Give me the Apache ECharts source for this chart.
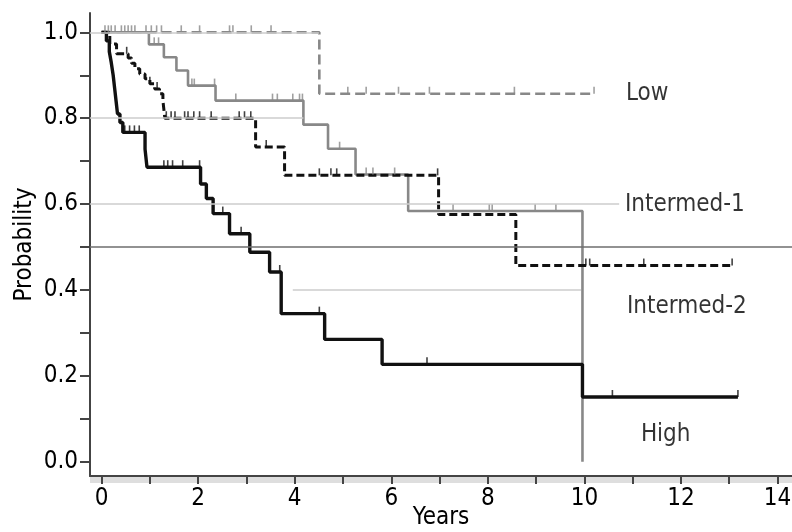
<!DOCTYPE html>
<html lang="en">
<head>
<meta charset="UTF-8">
<title>Probability by risk group</title>
<script src="https://cdn.jsdelivr.net/npm/echarts@6/dist/echarts.min.js"></script>
<style>
  html, body { margin: 0; padding: 0; background: #fff; }
</style>
</head>
<body>
<div id="main" style="width: 792px;height:532px;"></div>
<script type="text/javascript">
// step points [years, probability]
var lowSteps = [[0, 1], [4.51, 0.857], [10.2, 0.857]];
var int1Steps = [[0, 1], [0.98, 0.972], [1.29, 0.942], [1.55, 0.911], [1.79, 0.876], [2.36, 0.841],
    [4.18, 0.785], [4.69, 0.729], [5.26, 0.669], [6.35, 0.584], [9.96, 0]];
var int2Steps = [[0, 1], [0.17, 0.973], [0.31, 0.95], [0.55, 0.94], [0.62, 0.928], [0.69, 0.915],
    [0.79, 0.903], [0.90, 0.892], [1.0, 0.88], [1.10, 0.868], [1.20, 0.857], [1.27, 0.841],
    [1.31, 0.80], [3.19, 0.733], [3.79, 0.667], [6.98, 0.576], [8.58, 0.457], [13.06, 0.457]];
var highSteps = [[0, 1], [0.1, 0.98], [0.16, 0.955], [0.2, 0.93], [0.24, 0.9], [0.27, 0.87],
    [0.30, 0.84], [0.33, 0.81], [0.38, 0.79], [0.44, 0.767], [0.90, 0.728], [0.94, 0.686],
    [2.05, 0.647], [2.17, 0.613], [2.31, 0.578], [2.65, 0.531], [3.07, 0.488], [3.48, 0.442],
    [3.72, 0.345], [4.62, 0.285], [5.81, 0.227], [9.96, 0.151], [13.18, 0.151]];

// censor times (years)
var lowCensor = [0.07, 0.14, 0.2, 0.28, 0.41, 0.48, 0.55, 0.62, 0.69, 0.92, 1.03, 1.14, 1.24, 1.65,
    2.03, 2.65, 2.72, 3.1, 3.51, 5.1, 5.48, 6.15, 6.79, 8.55, 10.2];
var int1Censor = [1.09, 1.18, 1.87, 1.92, 2.34, 2.78, 3.54, 3.64, 3.96, 4.10, 4.16, 4.93, 5.48, 5.62,
    6.07, 7.28, 8.03, 8.09, 8.98, 9.41];
var int2Censor = [0.52, 1.0, 1.15, 1.34, 1.44, 1.52, 1.72, 1.79, 1.91, 2.03, 2.27, 2.85, 2.96, 3.09,
    3.41, 4.51, 4.75, 4.87, 6.96, 10.03, 10.11, 11.23, 13.06];
var highCensor = [0.48, 0.58, 0.68, 0.78, 1.29, 1.37, 1.47, 1.68, 2.03, 2.51, 2.89, 3.69, 4.51, 6.74,
    10.58, 13.18];

// group names and where they sit
var groupNames = ['Low', 'Intermed-1', 'Intermed-2', 'High'];
var groupLabelPos = [[10.86, 0.857], [10.84, 0.599], [10.88, 0.362], [11.17, 0.063]];

// horizontal reference lines: level, from, to
var refLevels = [1.0, 0.8, 0.6, 0.4, 0.5];
var refFrom = [-0.24, -0.24, -0.24, 3.96, -0.24];
var refTo = [4.5, 4.18, 10.72, 9.93, 14.3];

var xLabels = [0, 2, 4, 6, 8, 10, 12, 14];
var xTicks = [0, 1, 2, 3, 4, 5, 6, 7, 8, 9, 10, 11, 12, 13, 14];
var yLabels = [0, 0.2, 0.4, 0.6, 0.8, 1.0];
var yTicks = [0, 0.1, 0.2, 0.3, 0.4, 0.5, 0.6, 0.7, 0.8, 0.9, 1.0];

var FONT = '"DejaVu Sans Condensed", "Liberation Sans", sans-serif';
var FS = 24;
var TXT = '#000';
var GRAY = '#888888';

function valueAt(steps, t) {
    var v = steps[0][1];
    for (var i = 0; i < steps.length; i++) {
        if (steps[i][0] <= t) v = steps[i][1];
    }
    return v;
}
function censorPoints(steps, times) {
    return times.map(function (t) { return [t, valueAt(steps, t)]; });
}
function curve(name, steps, color, width, dash) {
    return {
        name: name, type: 'line', step: 'end', data: steps, symbol: 'none',
        lineStyle: { color: color, width: width, type: dash ? dash : 'solid' },
        z: 3, silent: true
    };
}
function censor(name, steps, times, color) {
    return {
        name: name + ' censored', type: 'scatter', data: censorPoints(steps, times),
        symbol: 'rect', symbolSize: [1.6, 7], symbolOffset: [0, -3.5],
        itemStyle: { color: color }, z: 4, silent: true
    };
}

var myChart = echarts.init(document.getElementById('main'));

var refData = refLevels.map(function (lv, i) {
    return [
        { coord: [refFrom[i], lv], lineStyle: { color: lv === 0.5 ? '#6e6e6e' : '#cccccc', width: 1.5, type: 'solid' } },
        { coord: [refTo[i], lv] }
    ];
});

var option = {
    animation: false,
    grid: { left: 90, right: 0, top: 13, bottom: 56, outerBoundsMode: 'none', containLabel: false },
    graphic: [{
        type: 'rect', z: -1,
        shape: { x: 90, y: 477, width: 702, height: 6 },
        style: { fill: '#dedede' }
    }],
    xAxis: {
        type: 'value', min: -0.24, max: 14.3,
        name: 'Years', nameLocation: 'middle', nameGap: 30, nameMoveOverlap: false,
        nameTextStyle: { fontFamily: FONT, fontSize: FS, color: TXT },
        axisLine: { onZero: false, lineStyle: { color: '#444', width: 2 } },
        axisTick: { customValues: xTicks, length: 8, lineStyle: { color: '#444', width: 2 } },
        axisLabel: { customValues: xLabels, fontFamily: FONT, fontSize: FS, color: TXT, margin: 11 },
        splitLine: { show: false }
    },
    yAxis: {
        type: 'value', min: -0.033, max: 1.045,
        name: 'Probability', nameLocation: 'middle', nameGap: 53, nameMoveOverlap: false,
        nameTextStyle: { fontFamily: FONT, fontSize: FS, color: TXT },
        axisLine: { onZero: false, lineStyle: { color: '#444', width: 2 } },
        axisTick: { customValues: yTicks, length: 10, lineStyle: { color: '#444', width: 2 } },
        axisLabel: {
            customValues: yLabels, fontFamily: FONT, fontSize: FS, color: TXT, margin: 12,
            formatter: function (v) { return v.toFixed(1); }
        },
        splitLine: { show: false }
    },
    series: [
        {
            name: 'reference', type: 'line', data: [], z: 1, silent: true,
            markLine: { symbol: ['none', 'none'], silent: true, label: { show: false }, data: refData }
        },
        curve('Low', lowSteps, GRAY, 2.6, [10, 5]),
        curve('Intermed-1', int1Steps, GRAY, 2.6),
        curve('High', highSteps, '#111', 3.4),
        curve('Intermed-2', int2Steps, '#111', 3, [8, 4]),
        censor('Low', lowSteps, lowCensor, GRAY),
        censor('Intermed-1', int1Steps, int1Censor, GRAY),
        censor('Intermed-2', int2Steps, int2Censor, '#111'),
        censor('High', highSteps, highCensor, '#111'),
        {
            name: 'group labels', type: 'scatter', symbolSize: 0, silent: true,
            data: groupLabelPos.map(function (p, i) { return [p[0], p[1], groupNames[i]]; }),
            label: {
                show: true, position: 'inside', align: 'left', verticalAlign: 'middle',
                fontFamily: FONT, fontSize: FS, color: TXT,
                formatter: function (p) { return p.data[2]; }
            }
        }
    ]
};

myChart.setOption(option);
</script>
</body>
</html>
